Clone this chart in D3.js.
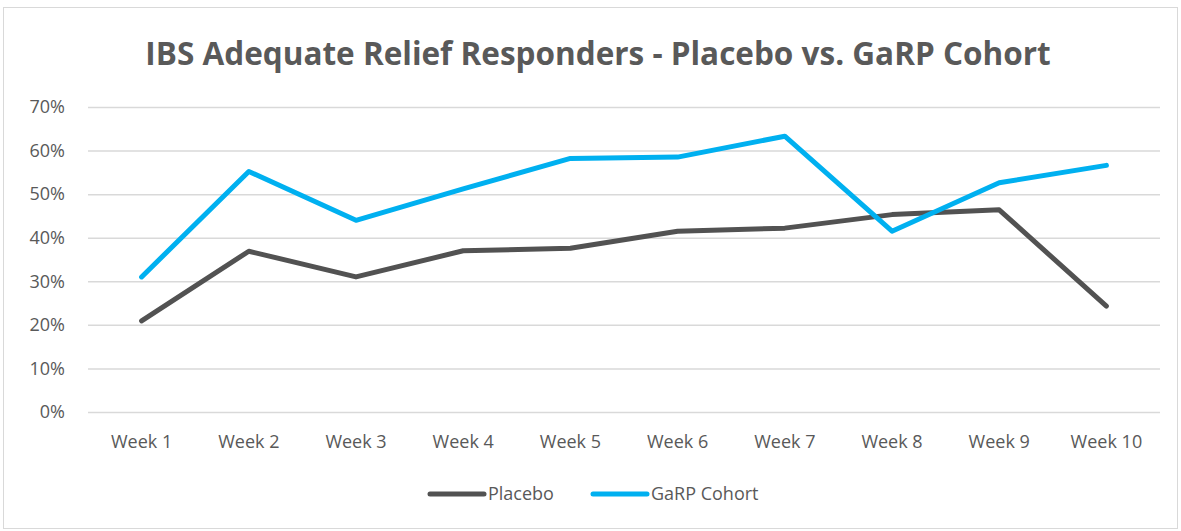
<!DOCTYPE html>
<html>
<head>
<meta charset="utf-8">
<script src="https://cdn.jsdelivr.net/npm/d3@7"></script>
<style>
  body { margin: 0; background: #fff; }
  text { font-family: "Open Sans", "Liberation Sans", sans-serif; fill: #595959; }
</style>
</head>
<body>
<div id="chart"></div>
<script>
var weeks = ["Week 1","Week 2","Week 3","Week 4","Week 5","Week 6","Week 7","Week 8","Week 9","Week 10"];
var placebo = [0.209, 0.369, 0.310, 0.370, 0.376, 0.415, 0.422, 0.453, 0.464, 0.243];
var garp = [0.310, 0.552, 0.440, 0.512, 0.582, 0.585, 0.633, 0.415, 0.526, 0.566];
var yTicks = [0, 0.1, 0.2, 0.3, 0.4, 0.5, 0.6, 0.7];
var seriesNames = ["Placebo", "GaRP Cohort"];
var colors = ["#525252", "#00b0f0"];

var width = 1181, height = 531;
var margin = {top: 107, bottom: 119, left: 88, right: 21};
var plotW = width - margin.left - margin.right;
var plotH = height - margin.top - margin.bottom;

var svg = d3.select("#chart")
    .append("svg")
    .attr("width", width)
    .attr("height", height);

// chart border
svg.append("rect")
    .attr("x", 3.5).attr("y", 7.5)
    .attr("width", 1174).attr("height", 521)
    .attr("fill", "none")
    .attr("stroke", "#d9d9d9");

svg.append("text")
    .attr("x", 598)
    .attr("y", 65)
    .attr("text-anchor", "middle")
    .style("font-size", "31.5px")
    .style("font-weight", "bold")
    .text("IBS Adequate Relief Responders - Placebo vs. GaRP Cohort");

var g = svg.append("g")
    .attr("transform", "translate(" + margin.left + "," + margin.top + ")");

var x = d3.scaleBand()
    .domain(weeks)
    .range([0, plotW]);

var y = d3.scaleLinear()
    .domain([0, 0.7])
    .range([plotH, 0]);

// grid
var grid = g.append("g")
    .call(d3.axisLeft(y).tickValues(yTicks).tickSize(-plotW).tickFormat(""));
grid.select(".domain").remove();
grid.selectAll(".tick line").attr("stroke", "#d9d9d9").attr("stroke-width", 1.5);

// y labels
var yAxis = g.append("g")
    .call(d3.axisLeft(y).tickValues(yTicks).tickSize(0).tickPadding(23).tickFormat(d3.format(".0%")));
yAxis.select(".domain").remove();
yAxis.selectAll("text")
    .style("font-size", "18px")
    .style("font-family", "\"Open Sans\", sans-serif")
    .attr("fill", "#595959");

// x labels
var xAxis = g.append("g")
    .attr("transform", "translate(0," + plotH + ")")
    .call(d3.axisBottom(x).tickSize(0).tickPadding(23));
xAxis.select(".domain").remove();
xAxis.selectAll("text")
    .style("font-size", "18px")
    .style("font-family", "\"Open Sans\", sans-serif")
    .attr("fill", "#595959");

var line = d3.line()
    .x(function(d, i) { return x(weeks[i]) + x.bandwidth() / 2; })
    .y(function(d) { return y(d); });

[placebo, garp].forEach(function(s, i) {
    g.append("path")
        .datum(s)
        .attr("d", line)
        .attr("fill", "none")
        .attr("stroke", colors[i])
        .attr("stroke-width", 5)
        .attr("stroke-linejoin", "round")
        .attr("stroke-linecap", "round");
});

// legend
var legendX = [430, 593];
seriesNames.forEach(function(name, i) {
    var lg = svg.append("g").attr("transform", "translate(" + legendX[i] + ",494)");
    lg.append("line")
        .attr("x1", 0).attr("x2", 54)
        .attr("stroke", colors[i])
        .attr("stroke-width", 5)
        .attr("stroke-linecap", "round");
    lg.append("text")
        .attr("x", 58)
        .attr("dy", "0.35em")
        .style("font-size", "18px")
        .text(name);
});
</script>
</body>
</html>
